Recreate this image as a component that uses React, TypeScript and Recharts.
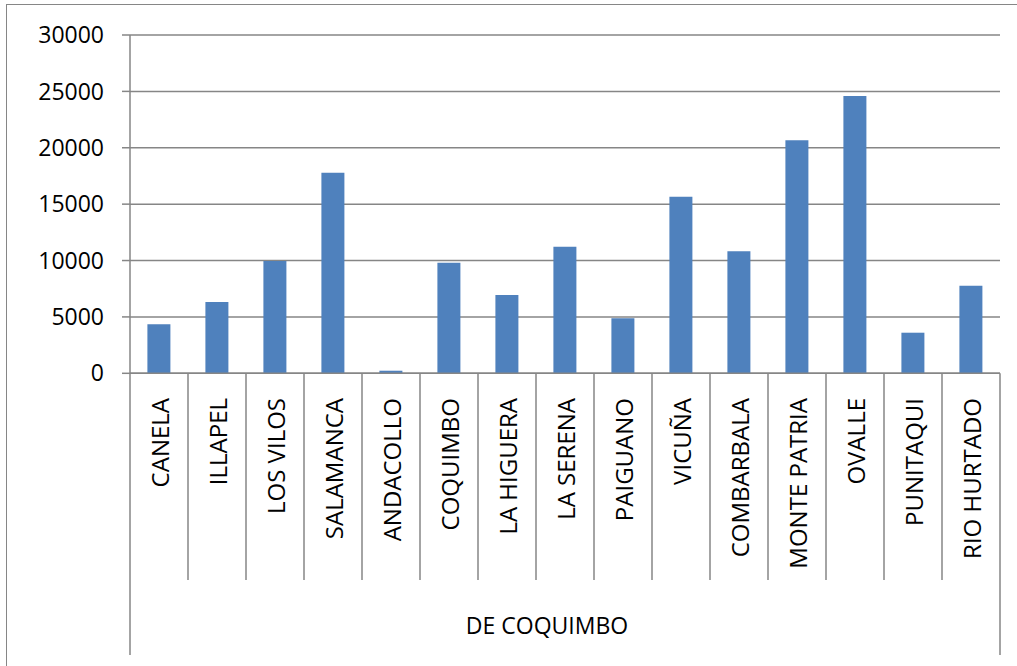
import React from "react";
import { BarChart, Bar, XAxis, YAxis, CartesianGrid, Label } from "recharts";

const comunas = [
  "CANELA", "ILLAPEL", "LOS VILOS", "SALAMANCA", "ANDACOLLO", "COQUIMBO", "LA HIGUERA",
  "LA SERENA", "PAIGUANO", "VICUÑA", "COMBARBALA", "MONTE PATRIA", "OVALLE", "PUNITAQUI", "RIO HURTADO",
];
const valores = [4350, 6330, 9960, 17790, 230, 9810, 6950, 11230, 4880, 15660, 10820, 20660, 24590, 3600, 7770];
const yTicks = [0, 5000, 10000, 15000, 20000, 25000, 30000];
const grupo = "DE COQUIMBO";

const data = comunas.map((name, i) => ({ name, value: valores[i] }));

const GRAY = "#868686";
const FONT = "'Open Sans', sans-serif";

const CategoryTick = (props: any) => {
  const { x, y, payload, index } = props;
  const half = payload.offset ?? 0;
  const last = index === comunas.length - 1;
  return (
    <g>
      <line x1={x - half} x2={x - half} y1={y} y2={index === 0 ? 655 : 580} stroke={GRAY} strokeWidth={1.5} />
      {last && <line x1={x + half} x2={x + half} y1={y} y2={655} stroke={GRAY} strokeWidth={1.5} />}
      <text
        x={x}
        y={398}
        transform={`rotate(-90, ${x}, 398)`}
        textAnchor="end"
        dominantBaseline="central"
        fontFamily={FONT}
        fontSize={24}
        fill="#000"
      >
        {payload.value}
      </text>
    </g>
  );
};

export default function App() {
  return (
    <div style={{ position: "absolute", left: 0, top: 0, width: 1017, height: 666, background: "#fff", overflow: "hidden" }}>
      <div style={{ position: "absolute", left: 6, top: 4, width: 1030, height: 680, border: `1.5px solid ${GRAY}` }} />
      <div style={{ position: "absolute", left: 0, top: 0 }}>
        <BarChart width={1017} height={666} data={data} margin={{ top: 35, right: 17, left: 0, bottom: 0 }} barCategoryGap="30%">
          <CartesianGrid vertical={false} stroke={GRAY} strokeWidth={1.5} />
          <XAxis
            dataKey="name"
            height={292.7}
            interval={0}
            tickLine={false}
            tickSize={0}
            tickMargin={0}
            axisLine={{ stroke: GRAY, strokeWidth: 1.5 }}
            tick={<CategoryTick />}
          >
            <Label
              content={() => (
                <text x={547} y={625} textAnchor="middle" dominantBaseline="central" fontFamily={FONT} fontSize={23} fill="#000">
                  {grupo}
                </text>
              )}
            />
          </XAxis>
          <YAxis
            width={130}
            domain={[0, 30000]}
            ticks={yTicks}
            interval={0}
            tickSize={8}
            tickMargin={18}
            axisLine={{ stroke: GRAY, strokeWidth: 1.5 }}
            tickLine={{ stroke: GRAY, strokeWidth: 1.5 }}
            tick={{ fill: "#000", fontFamily: FONT, fontSize: 23 }}
          />
          <Bar dataKey="value" fill="#4F81BD" isAnimationActive={false} />
        </BarChart>
      </div>
    </div>
  );
}
